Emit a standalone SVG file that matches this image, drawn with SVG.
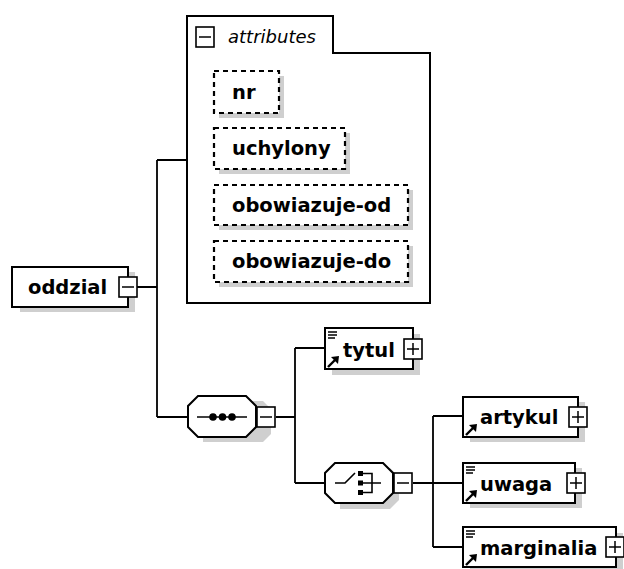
<svg xmlns="http://www.w3.org/2000/svg" width="624" height="569" viewBox="0 0 624 569">
<style>
.bg{fill:#ffffff}
.box{fill:#ffffff;stroke:#000;stroke-width:2}
.att{fill:#ffffff;stroke:#000;stroke-width:2.2;stroke-dasharray:5 4}
.sh{fill:#cfcfcf}
.ln{fill:none;stroke:#000;stroke-width:1.8}
.btn{fill:#ffffff;stroke:#000;stroke-width:1.6}
.t{font-family:"DejaVu Sans","Liberation Sans",sans-serif;font-weight:bold;font-size:19.5px;fill:#000}
.it{font-family:"DejaVu Sans","Liberation Sans",sans-serif;font-style:italic;font-size:18px;fill:#000}
.ic{fill:none;stroke:#000;stroke-width:1.6}
.icf{fill:#000}
</style>
<defs>
<g id="ref">
<path d="M3,-2 L11,-10" stroke="#000" stroke-width="2.4" fill="none"/>
<path d="M14,-13 L6,-12 L13,-5 Z" fill="#000"/>
</g>
<g id="lst">
<path d="M3,4 H12 M3,7 H12 M3,10 H10" stroke="#000" stroke-width="1.5" fill="none"/>
</g>
<g id="plus">
<rect class="btn" x="0" y="0" width="18" height="20"/>
<path d="M3,10 H15 M9,4 V16" stroke="#000" stroke-width="1.5"/>
</g>
<g id="minus">
<rect class="btn" x="0" y="0" width="18" height="20"/>
<path d="M3,10 H15" stroke="#000" stroke-width="1.5"/>
</g>
</defs>
<rect class="bg" x="0" y="0" width="624" height="569"/>

<g id="connectors">
<path class="ln" d="M137,287 H157 M157,160 V417 M157,160 H187 M157,417 H188"/>
<path class="ln" d="M276,417 H295 M295,348 V483 M295,348 H325 M295,483 H325"/>
<path class="ln" d="M413,483 H433 M433,416 V547 M433,416 H463 M433,483 H463 M433,547 H463"/>
</g>

<g id="attributes">
<path d="M187,16 H333 V53 H430 V303 H187 Z" fill="#ffffff" stroke="#000" stroke-width="2"/>
<use href="#minus" x="196" y="27"/>
<text class="it" x="228" y="43">attributes</text>
</g>

<g id="attr-nr">
<path class="sh" d="M279,76 h5 v42 h-65 v-5 h60 Z"/>
<rect class="att" x="214" y="71" width="65" height="42"/>
<text class="t" x="232" y="99">nr</text>
</g>
<g id="attr-uchylony">
<path class="sh" d="M345,133 h5 v41 h-131 v-5 h126 Z"/>
<rect class="att" x="214" y="128" width="131" height="41"/>
<text class="t" x="232" y="155">uchylony</text>
</g>
<g id="attr-obowiazuje-od">
<path class="sh" d="M408,190 h5 v40 h-194 v-5 h189 Z"/>
<rect class="att" x="214" y="185" width="194" height="40"/>
<text class="t" x="232" y="212">obowiazuje-od</text>
</g>
<g id="attr-obowiazuje-do">
<path class="sh" d="M408,246 h5 v41 h-194 v-5 h189 Z"/>
<rect class="att" x="214" y="241" width="194" height="41"/>
<text class="t" x="232" y="268">obowiazuje-do</text>
</g>

<g id="oddzial">
<rect class="sh" x="20" y="272" width="115" height="40"/>
<rect class="box" x="12" y="267" width="116" height="40"/>
<text class="t" x="28" y="294">oddzial</text>
<use href="#minus" x="119" y="277"/>
</g>

<g id="sequence">
<path class="sh" d="M203,401 H263 L271,409 V434 L263,442 H203 Z"/>
<path class="box" d="M198,396 H246 L256,406 V427 L246,437 H198 L188,427 V406 Z"/>
<path d="M197,417 H247" stroke="#000" stroke-width="1.5"/>
<circle class="icf" cx="213" cy="417" r="3.8"/>
<circle class="icf" cx="222.5" cy="417" r="3.8"/>
<circle class="icf" cx="232" cy="417" r="3.8"/>
<use href="#minus" x="257" y="407"/>
</g>

<g id="tytul">
<rect class="sh" x="332" y="334" width="88" height="41"/>
<rect class="box" x="325" y="328" width="88" height="41"/>
<use href="#lst" x="325" y="328"/>
<use href="#ref" x="325" y="369"/>
<text class="t" x="343" y="357">tytul</text>
<use href="#plus" x="404" y="339"/>
</g>

<g id="choice">
<path class="sh" d="M340,468 H390 L399,477 V500 L390,509 H340 Z"/>
<path class="box" d="M335,463 H383 L393,473 V493 L383,503 H335 L325,493 V473 Z"/>
<path class="ic" d="M335,483 H345 L355,473"/>
<rect class="icf" x="358" y="471" width="5" height="5"/>
<rect class="icf" x="358" y="480.5" width="5" height="5"/>
<rect class="icf" x="358" y="490" width="5" height="5"/>
<path class="ic" d="M363,473.5 H372 V492.5 H363 M363,483 H381"/>
<use href="#minus" x="394" y="473"/>
</g>

<g id="artykul">
<rect class="sh" x="470" y="402" width="115" height="40"/>
<rect class="box" x="463" y="397" width="115" height="40"/>
<use href="#ref" x="463" y="437"/>
<text class="t" x="480" y="424">artykul</text>
<use href="#plus" x="569" y="407"/>
</g>

<g id="uwaga">
<rect class="sh" x="470" y="468" width="112" height="40"/>
<rect class="box" x="463" y="463" width="112" height="40"/>
<use href="#lst" x="463" y="463"/>
<use href="#ref" x="463" y="503"/>
<text class="t" x="480" y="491">uwaga</text>
<use href="#plus" x="567" y="473"/>
</g>

<g id="marginalia">
<rect class="sh" x="470" y="533" width="153" height="40"/>
<rect class="box" x="463" y="527" width="153" height="40"/>
<use href="#lst" x="463" y="527"/>
<use href="#ref" x="463" y="567"/>
<text class="t" x="480" y="555">marginalia</text>
<use href="#plus" x="606" y="537"/>
</g>
</svg>
